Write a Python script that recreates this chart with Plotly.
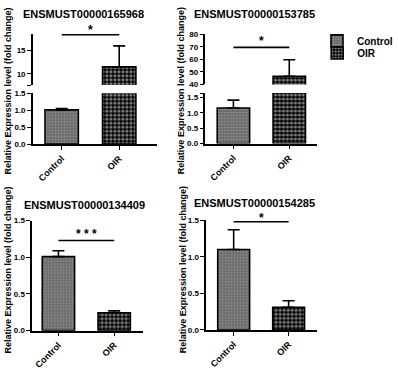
import plotly.graph_objects as go

# ---------------- data ----------------
genes = ["ENSMUST00000165968", "ENSMUST00000153785", "ENSMUST00000134409", "ENSMUST00000154285"]
groups = ["Control", "OIR"]
p1_mean = [1.01, 11.5]
p1_err = [0.04, 4.5]
p2_mean = [1.16, 46.5]
p2_err = [0.26, 13.2]
p3_mean = [1.01, 0.244]
p3_err = [0.08, 0.026]
p4_mean = [1.10, 0.31]
p4_err = [0.27, 0.09]
sig_labels = ["*", "*", "* * *", "*"]
sig_levels = [18.4, 69.5, 1.23, 1.48]
ytitle = "Relative Expression level (fold change)"

W, H = 398, 370
FONT = "Liberation Sans, Arial, sans-serif"


def fx(px):
    return px / W


def fy(py):
    return 1 - py / H


ctrl_pattern = dict(shape=".", bgcolor="#666666", fgcolor="#bdbdbd", size=3, solidity=0.4)
oir_pattern = dict(shape=".", bgcolor="black", fgcolor="white", size=4, solidity=0.5)


def bar_traces(means, errs, xa, ya, legend=False):
    out = []
    for i, (g, pat) in enumerate(zip(groups, [ctrl_pattern, oir_pattern])):
        out.append(go.Bar(
            x=[g], y=[means[i]], width=0.58,
            xaxis=xa, yaxis=ya, name=g,
            showlegend=legend, legend="legend" if i == 0 else "legend2",
            marker=dict(color="white", pattern=pat, line=dict(color="black", width=1.6)),
            error_y=dict(type="data", array=[errs[i]], arrayminus=[0], symmetric=False,
                         color="black", thickness=1.6, width=6),
        ))
    return out


fig = go.Figure()
for t in bar_traces(p1_mean, p1_err, "x", "y", legend=True):
    fig.add_trace(t)
for t in bar_traces(p1_mean, p1_err, "x2", "y2"):
    fig.add_trace(t)
for t in bar_traces(p2_mean, p2_err, "x3", "y3"):
    fig.add_trace(t)
for t in bar_traces(p2_mean, p2_err, "x4", "y4"):
    fig.add_trace(t)
for t in bar_traces(p3_mean, p3_err, "x5", "y5"):
    fig.add_trace(t)
for t in bar_traces(p4_mean, p4_err, "x6", "y6"):
    fig.add_trace(t)

tickfont = dict(family=FONT, size=8, color="black", weight="bold")


def xax(dom, rng, anchor, visible=True):
    d = dict(domain=[fx(dom[0]), fx(dom[1])], range=rng, anchor=anchor,
             type="category", categoryorder="array", categoryarray=groups,
             showgrid=False, zeroline=False, fixedrange=True)
    if visible:
        d.update(showline=True, linecolor="black", linewidth=1.5, ticks="outside",
                 ticklen=4, tickwidth=1.3, tickcolor="black", tickangle=-45,
                 tickfont=dict(family=FONT, size=9, color="black", weight="bold"))
    else:
        d.update(showline=False, showticklabels=False, ticks="")
    return d


def yax(dom, rng, anchor, tickvals, ticktext):
    return dict(domain=[fy(dom[0]), fy(dom[1])], range=rng, anchor=anchor,
                showline=True, linecolor="black", linewidth=1.5, ticks="outside",
                ticklen=4, tickwidth=1.3, tickcolor="black", tickvals=tickvals,
                ticktext=ticktext, tickfont=tickfont, showgrid=False, zeroline=False,
                fixedrange=True)


std_vals = [0, 0.5, 1.0, 1.5]
std_text = ["0.0", "0.5", "1.0", "1.5"]

legfont = dict(family=FONT, size=10, color="black", weight="bold")
layout = dict(
    width=W, height=H, margin=dict(l=0, r=0, t=0, b=0),
    paper_bgcolor="white", plot_bgcolor="white", barmode="overlay",
    font=dict(family=FONT, color="black"),
    xaxis=xax((33, 157), [-0.5, 1.65], "y"),
    yaxis=yax((144, 91.7), [0, 1.5], "x", std_vals, std_text),
    xaxis2=xax((33, 157), [-0.5, 1.65], "y2", visible=False),
    yaxis2=yax((83.3, 30.6), [7.6, 18.6], "x2", [7.6, 10, 15], ["", "10", "15"]),
    xaxis3=xax((206, 318), [-0.5, 1.5], "y3"),
    yaxis3=yax((143.5, 91.5), [0, 1.65], "x3", std_vals + [1.65], std_text + [""]),
    xaxis4=xax((206, 318), [-0.5, 1.5], "y4", visible=False),
    yaxis4=yax((82.7, 31), [40, 80], "x4", [40, 50, 60, 70, 80], ["40", "50", "60", "70", "80"]),
    xaxis5=xax((32.3, 143), [-0.47, 1.51], "y5"),
    yaxis5=yax((335.7, 222.7), [0, 1.5], "x5", std_vals, std_text),
    xaxis6=xax((206.7, 318), [-0.5, 1.52], "y6"),
    yaxis6=yax((335, 222.3), [0, 1.5], "x6", std_vals, std_text),
    legend=dict(x=fx(318), y=fy(23), xanchor="left", yanchor="top",
                font=legfont, bgcolor="rgba(0,0,0,0)"),
    legend2=dict(x=fx(318), y=fy(35.5), xanchor="left", yanchor="top",
                 font=legfont, bgcolor="rgba(0,0,0,0)"),
)
fig.update_layout(**layout)

# significance lines and stars
sig_axes = [("x2", "y2"), ("x4", "y4"), ("x5", "y5"), ("x6", "y6")]
star_shift = [5, 6, 6, 4]
for (xa, ya), lvl, lab, sh in zip(sig_axes, sig_levels, sig_labels, star_shift):
    fig.add_shape(type="line", xref=xa, yref=ya, x0=groups[0], x1=groups[1], y0=lvl, y1=lvl,
                  line=dict(color="black", width=1.6))
    fig.add_annotation(xref=xa, yref=ya, x=0.5, y=lvl, text=lab, showarrow=False,
                       yanchor="middle", yshift=sh,
                       font=dict(family=FONT, size=12, color="black", weight="bold"))

# panel titles
title_pos = [(20.7, 10), (192, 10), (22, 207), (192, 205)]
for g, (px, py) in zip(genes, title_pos):
    fig.add_annotation(xref="paper", yref="paper", x=fx(px), y=fy(py), text=g,
                       showarrow=False, xanchor="left", yanchor="middle",
                       font=dict(family=FONT, size=11, color="black", weight="bold"))

# y-axis titles
ytitle_pos = [(8, 89), (181, 89), (8, 273), (183, 273)]
for px, py in ytitle_pos:
    fig.add_annotation(xref="paper", yref="paper", x=fx(px), y=fy(py), text=ytitle,
                       showarrow=False, textangle=-90, xanchor="center", yanchor="middle",
                       font=dict(family=FONT, size=9, color="black", weight="bold"))

fig.write_html("out.html", config={"displayModeBar": False},
               post_script="document.body.style.margin='0';")
